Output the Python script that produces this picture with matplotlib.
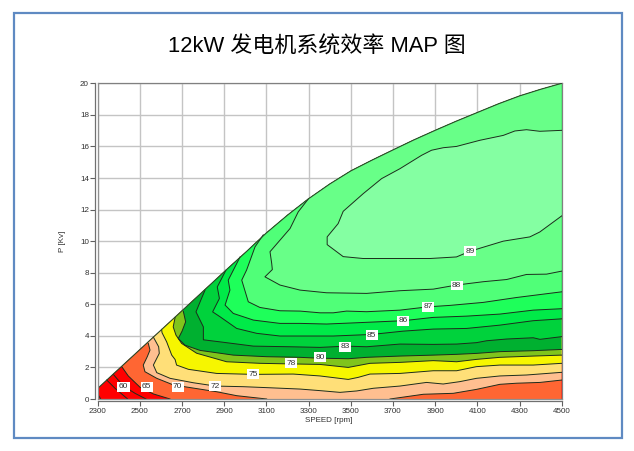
import matplotlib
matplotlib.use("Agg")
import matplotlib.pyplot as plt
from matplotlib.patches import Polygon, Rectangle

title = "12kW 发电机系统效率 MAP 图"
xlabel = "SPEED [rpm]"
ylabel = "P [Kv]"
xticks = [2300, 2500, 2700, 2900, 3100, 3300, 3500, 3700, 3900, 4100, 4300, 4500]
yticks = [0, 2, 4, 6, 8, 10, 12, 14, 16, 18, 20]

# maximum power envelope
speed_env = [2300, 2698, 2809, 2911, 3006, 3098, 3200, 3299, 3400, 3500, 3600, 3700,
             3800, 3900, 4000, 4100, 4200, 4300, 4400, 4500]
power_env = [0.67, 5.57, 6.94, 8.2, 9.35, 10.5, 11.65, 12.68, 13.62, 14.45, 15.13, 15.78,
             16.42, 17.02, 17.6, 18.15, 18.7, 19.2, 19.62, 20.0]

# iso-efficiency contours: (speed rpm, power kW)
speed_50 = [2300, 2314]
power_50 = [0.32, 0]
speed_55 = [2343, 2382, 2442]
power_55 = [1.2, 0.68, 0]
speed_60 = [2374, 2422, 2477, 2529]
power_60 = [1.56, 0.82, 0.36, 0]
speed_65 = [2414, 2445, 2501, 2564, 2643]
power_65 = [2.05, 1.46, 0.74, 0.32, 0]
speed_70 = [2540, 2548, 2535, 2516, 2524, 2580, 2659, 2864, 2959, 3101,
            3686, 3844, 3986, 4096, 4207, 4286, 4397, 4500]
power_70 = [3.52, 3.1, 2.68, 2.15, 1.73, 1.31, 0.89, 0.46, 0.21, 0,
            0, 0.3, 0.36, 0.61, 0.93, 1.0, 1.05, 1.2]
speed_72 = [2564, 2589, 2592, 2564, 2580, 2643, 2753, 2858, 2990, 3101, 3259, 3354,
            3449, 3528, 3607, 3733, 3859, 3938, 4017, 4096, 4207, 4333, 4500]
power_72 = [3.92, 3.31, 2.89, 2.15, 1.67, 1.31, 1.03, 0.82, 0.78, 0.72, 0.63, 0.53,
            0.42, 0.51, 0.68, 0.82, 1.05, 0.95, 1.1, 1.31, 1.46, 1.52, 1.69]
speed_75 = [2603, 2605, 2627, 2651, 2667, 2674, 2730, 2864, 3038, 3227, 3354, 3488, 3535,
            3591, 3733, 3891, 4002, 4096, 4207, 4365, 4500]
power_75 = [4.41, 4.2, 3.62, 2.78, 2.5, 2.15, 1.88, 1.62, 1.56, 1.58, 1.46, 1.24, 1.37,
            1.58, 1.62, 1.79, 1.79, 2.05, 2.15, 2.15, 2.26]
speed_78 = [2667, 2658, 2671, 2698, 2769, 2911, 3069, 3227, 3354, 3488, 3591,
            3733, 3891, 4002, 4096, 4207, 4365, 4500]
power_78 = [5.17, 4.57, 4.05, 3.52, 2.9, 2.36, 2.26, 2.22, 2.19, 2.0, 2.26,
            2.32, 2.43, 2.36, 2.51, 2.64, 2.72, 2.78]
speed_80 = [2706, 2717, 2700, 2682, 2714, 2785, 2943, 3101, 3259, 3338, 3488,
            3575, 3733, 3891, 4002, 4096, 4207, 4365, 4500]
power_80 = [5.55, 4.89, 4.3, 3.83, 3.41, 3.08, 2.78, 2.68, 2.64, 2.59, 2.55,
            2.64, 2.72, 2.78, 2.83, 2.89, 3.0, 3.06, 3.14]
speed_83 = [2809, 2790, 2766, 2801, 2801, 2880, 3038, 3212, 3354, 3480, 3575, 3733,
            3891, 4002, 4096, 4144, 4239, 4365, 4397, 4500]
power_83 = [6.9, 6.3, 5.52, 4.57, 3.75, 3.62, 3.35, 3.31, 3.27, 3.35, 3.31, 3.48,
            3.46, 3.48, 3.57, 3.69, 3.8, 3.88, 3.78, 3.95]
speed_85 = [2908, 2867, 2877, 2845, 2880, 2959, 3054, 3164, 3259, 3417, 3599, 3749,
            3891, 4049, 4207, 4365, 4500]
power_85 = [8.16, 7.1, 6.37, 5.52, 5.21, 4.47, 4.16, 3.99, 3.99, 3.99, 4.09, 4.3,
            4.43, 4.47, 4.68, 4.96, 5.08]
speed_86 = [2975, 2919, 2927, 2904, 2943, 3038, 3164, 3259, 3385, 3528, 3749, 3891,
            4049, 4207, 4365, 4500]
power_86 = [9.0, 7.53, 6.9, 5.95, 5.42, 5.0, 4.79, 4.79, 4.75, 4.83, 4.96, 5.17,
            5.25, 5.38, 5.63, 5.72]
speed_87 = [3085, 3046, 3006, 2983, 3014, 3069, 3164, 3259, 3354, 3417, 3480, 3575,
            3733, 3867, 3970, 4128, 4286, 4500]
power_87 = [10.4, 9.64, 8.17, 7.53, 6.16, 5.8, 5.59, 5.57, 5.46, 5.46, 5.57, 5.53,
            5.63, 5.84, 5.93, 6.12, 6.43, 6.79]
speed_88 = [3299, 3251, 3212, 3117, 3125, 3128, 3093, 3164, 3259, 3385, 3575, 3733,
            3891, 4002, 4128, 4239, 4333, 4428, 4500]
power_88 = [12.68, 11.86, 10.8, 9.33, 8.59, 8.2, 7.74, 7.22, 6.9, 6.73, 6.69, 6.86,
            6.96, 7.22, 7.43, 7.57, 7.89, 7.91, 8.1]
speed_89 = [4500, 4396, 4333, 4278, 4223, 4112, 4001, 3939, 3883, 3836, 3733, 3646, 3559, 3464,
            3440, 3388, 3388, 3464, 3559, 3717, 3875, 4001, 4065, 4223, 4349, 4396, 4500]
power_89 = [17.02, 16.96, 17.06, 16.98, 16.7, 16.39, 16.0, 15.92, 15.76, 15.44, 14.59, 13.96, 13.01, 11.89,
            11.11, 10.27, 9.78, 9.02, 8.9, 8.9, 8.9, 9.0, 9.36, 10.0, 10.27, 10.58, 11.6]

contours = [
    (speed_50, power_50, "#ff0000"),
    (speed_55, power_55, "#ff0000"),
    (speed_60, power_60, "#ff0000"),
    (speed_65, power_65, "#ff6633"),
    (speed_70, power_70, "#ffbf90"),
    (speed_72, power_72, "#ffdf78"),
    (speed_75, power_75, "#f6f600"),
    (speed_78, power_78, "#80c41c"),
    (speed_80, power_80, "#00b030"),
    (speed_83, power_83, "#00d23c"),
    (speed_85, power_85, "#00ea48"),
    (speed_86, power_86, "#1eff5a"),
    (speed_87, power_87, "#50ff78"),
    (speed_88, power_88, "#68ff88"),
]
color_lowest = "#ff0000"
color_89 = "#84ffa2"

label_text = ["60", "65", "70", "72", "75", "78", "80", "83", "85", "86", "87", "88", "89"]
label_speed = [2422, 2532, 2679, 2858, 3036, 3216, 3354, 3472, 3599, 3749, 3867, 4002, 4065]
label_power = [0.78, 0.78, 0.78, 0.82, 1.56, 2.26, 2.64, 3.31, 4.05, 4.96, 5.84, 7.19, 9.36]

LATIN_CJK = ["Liberation Sans", "Noto Sans CJK SC", "DejaVu Sans"]
plt.rcParams["font.family"] = LATIN_CJK

W, H = 634, 451
fig = plt.figure(figsize=(W / 100, H / 100), dpi=100, facecolor="white")
fig.add_artist(Rectangle((13.5 / W, 1 - 438 / H), 608.5 / W, 425.5 / H, transform=fig.transFigure,
                         fill=False, edgecolor="#5f8ac2", linewidth=1.6))
fig.text(316.5 / W, 1 - 47 / H, title, ha="center", va="center", fontsize=15.8, color="black")

ax = fig.add_axes([97.7 / W, 1 - 399 / H, 464 / W, 315.7 / H])
ax.set_xlim(2300, 4500)
ax.set_ylim(0, 20)
ax.set_xticks(xticks)
ax.set_yticks(yticks)
ax.grid(True, color="#c4c4c4", linewidth=1.0, zorder=0)
ax.set_axisbelow(True)

xmax, ymax = xticks[-1], yticks[-1]
env_pts = [(xticks[0], 0)] + list(zip(speed_env, power_env)) + [(xmax, 0)]
env = Polygon(env_pts, closed=True, facecolor=color_lowest, edgecolor="none", zorder=1)
ax.add_patch(env)
clip = Polygon(env_pts, closed=True, transform=ax.transData)

LINE = "#1c2c1c"
for s, p, col in contours:
    pts = list(zip(s, p))
    if p[-1] == 0:
        pts.append((xmax, 0))
    pts += [(xmax, ymax + 1), (xticks[0], ymax + 1)]
    poly = Polygon(pts, closed=True, facecolor=col, edgecolor="none", zorder=2)
    ax.add_patch(poly)
    poly.set_clip_path(clip)

patch89 = Polygon(list(zip(speed_89, power_89)), closed=True, facecolor=color_89,
                  edgecolor="none", zorder=2)
ax.add_patch(patch89)

for s, p, _ in contours + [(speed_89, power_89, None)]:
    start = 0
    for i in range(len(p) - 1):
        if p[i] == 0 and p[i + 1] == 0:
            ax.plot(s[start:i + 1], p[start:i + 1], color=LINE, lw=0.7, zorder=3)
            start = i + 1
    ax.plot(s[start:], p[start:], color=LINE, lw=0.7, zorder=3)

ax.plot(speed_env, power_env, color="#2a4a2a", lw=0.8, zorder=4)

for t, sx, py in zip(label_text, label_speed, label_power):
    ax.text(sx, py, t, ha="center", va="center", fontsize=6.0, color="#303030", zorder=5,
            bbox=dict(facecolor="white", edgecolor="none", pad=1.0))

for name in ("top", "right"):
    ax.spines[name].set_color("#808080")
    ax.spines[name].set_linewidth(0.9)
for name in ("left", "bottom"):
    ax.spines[name].set_position(("outward", 1.6))
    ax.spines[name].set_color("#707070")
    ax.spines[name].set_linewidth(0.9)
ax.axvline(xticks[0], color="#909090", lw=0.9, zorder=6, clip_on=False)
ax.axhline(0, color="#909090", lw=0.9, zorder=6, clip_on=False)
ax.tick_params(axis="both", length=3.5, width=0.8, color="#606060", labelsize=5.8,
               labelcolor="#303030", pad=1.2)

fig.text(329 / W, 1 - 420 / H, xlabel, ha="center", va="center", fontsize=5.8, color="#303030")
fig.text(63 / W, 1 - 241 / H, ylabel, ha="center", va="center", rotation=90, fontsize=5.8, color="#303030")

fig.savefig("out.png", dpi=100, facecolor="white")
